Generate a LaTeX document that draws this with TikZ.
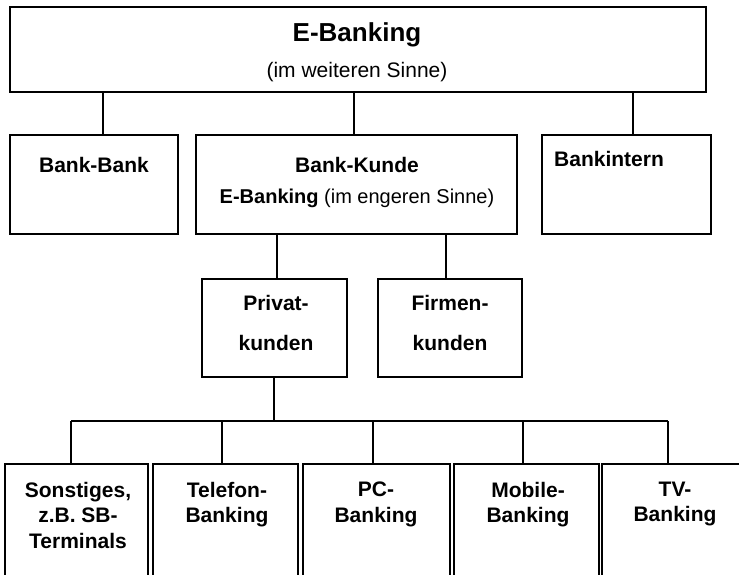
\documentclass[tikz,border=0pt]{standalone}
\usepackage{fontspec}
\setmainfont{Liberation Sans}
\begin{document}
\begin{tikzpicture}[x=1pt,y=-1pt,
  box/.style={draw, line width=1.9pt, rectangle, inner sep=0pt},
  bt/.style={font=\bfseries\fontsize{21}{25.5}\selectfont, inner sep=0pt, align=center},
  rt/.style={font=\fontsize{21}{25.5}\selectfont, inner sep=0pt, align=center},
  conn/.style={line width=1.9pt},
]
\useasboundingbox (0,0) rectangle (739,575);
\clip (0,0) rectangle (739,575);
\fill[white] (0,0) rectangle (739,575);

% boxes
\node[box, minimum width=696pt, minimum height=85pt] (top) at (358,49.5) {};
\node[box, minimum width=168pt, minimum height=99pt] (bb) at (94,184.5) {};
\node[box, minimum width=321pt, minimum height=99pt] (bk) at (356.5,184.5) {};
\node[box, minimum width=169pt, minimum height=99pt] (bi) at (626.5,184.5) {};
\node[box, minimum width=145pt, minimum height=98pt] (pk) at (274.5,328) {};
\node[box, minimum width=144pt, minimum height=98pt] (fk) at (450,328) {};
\node[box, minimum width=143pt, minimum height=156pt] (s1) at (76.5,542) {};
\node[box, minimum width=145pt, minimum height=156pt] (s2) at (225.5,542) {};
\node[box, minimum width=147pt, minimum height=156pt] (s3) at (376.5,542) {};
\node[box, minimum width=145pt, minimum height=156pt] (s4) at (526.5,542) {};
\node[box, minimum width=148pt, minimum height=156pt] (s5) at (676,542) {};

% texts
\node[bt, font=\bfseries\fontsize{26}{30}\selectfont, anchor=base] (topt) at (357,42) {E-Banking};
\node[rt, anchor=base] (tops) at (357,78) {(im weiteren Sinne)};
\node[bt, anchor=base] (bbt) at (94,172) {Bank-Bank};
\node[bt, font=\bfseries\fontsize{21}{31}\selectfont, anchor=north] (bkt) at (357,156.7)
  {Bank-Kunde\\{\fontsize{20}{31}\selectfont E-Banking \mdseries(im engeren Sinne)}};
\node[bt, anchor=base west] (bit) at (554,167) {Bankintern};
\node[bt, font=\bfseries\fontsize{21}{40}\selectfont, anchor=north] (pkt) at (276,294.7) {Privat-\\kunden};
\node[bt, font=\bfseries\fontsize{21}{40}\selectfont, anchor=north] (fkt) at (450,294.7) {Firmen-\\kunden};
\node[bt, anchor=north] (s1t) at (78,481.7) {Sonstiges,\\z.B. SB-\\Terminals};
\node[bt, anchor=north] (s2t) at (227,481.7) {Telefon-\\Banking};
\node[bt, anchor=north] (s3t) at (376,481.7) {PC-\\Banking};
\node[bt, anchor=north] (s4t) at (528,481.7) {Mobile-\\Banking};
\node[bt, anchor=north] (s5t) at (675,481.7) {TV-\\Banking};

% connectors
\draw[conn] ([xshift=9pt]bb.north) -- ([xshift=9pt]bb.north |- top.south);
\draw[conn] ([xshift=-2.5pt]bk.north) -- ([xshift=-2.5pt]bk.north |- top.south);
\draw[conn] ([xshift=6.5pt]bi.north) -- ([xshift=6.5pt]bi.north |- top.south);
\draw[conn] ([xshift=2.5pt]pk.north) -- ([xshift=2.5pt]pk.north |- bk.south);
\draw[conn] ([xshift=-4pt]fk.north) -- ([xshift=-4pt]fk.north |- bk.south);
\coordinate (bus) at (274,421);
\draw[conn] ([xshift=-0.5pt]pk.south) -- (bus);
\draw[conn] ([xshift=-5.5pt]s1.north |- bus) -- ([xshift=-8pt]s5.north |- bus);
\draw[conn] ([xshift=-5.5pt]s1.north) -- ([xshift=-5.5pt]s1.north |- bus);
\draw[conn] ([xshift=-3.5pt]s2.north) -- ([xshift=-3.5pt]s2.north |- bus);
\draw[conn] ([xshift=-3.5pt]s3.north) -- ([xshift=-3.5pt]s3.north |- bus);
\draw[conn] ([xshift=-3.5pt]s4.north) -- ([xshift=-3.5pt]s4.north |- bus);
\draw[conn] ([xshift=-8pt]s5.north) -- ([xshift=-8pt]s5.north |- bus);
\end{tikzpicture}
\end{document}
